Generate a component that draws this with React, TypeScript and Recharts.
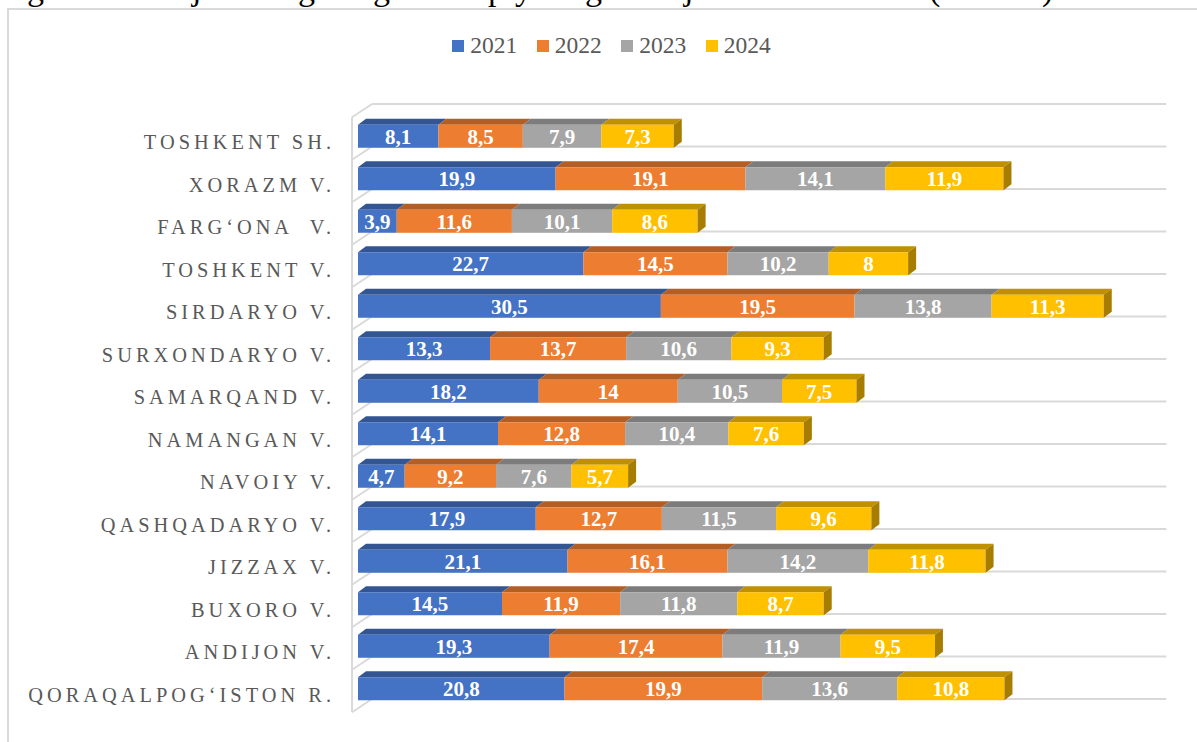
import { BarChart, Bar, XAxis, YAxis, CartesianGrid, Legend, LabelList } from "recharts";

const categories = [
  "TOSHKENT SH.",
  "XORAZM V.",
  "FARG‘ONA  V.",
  "TOSHKENT V.",
  "SIRDARYO V.",
  "SURXONDARYO V.",
  "SAMARQAND V.",
  "NAMANGAN V.",
  "NAVOIY V.",
  "QASHQADARYO V.",
  "JIZZAX V.",
  "BUXORO V.",
  "ANDIJON V.",
  "QORAQALPOG‘ISTON R.",
];
const v2021 = [8.1, 19.9, 3.9, 22.7, 30.5, 13.3, 18.2, 14.1, 4.7, 17.9, 21.1, 14.5, 19.3, 20.8];
const v2022 = [8.5, 19.1, 11.6, 14.5, 19.5, 13.7, 14, 12.8, 9.2, 12.7, 16.1, 11.9, 17.4, 19.9];
const v2023 = [7.9, 14.1, 10.1, 10.2, 13.8, 10.6, 10.5, 10.4, 7.6, 11.5, 14.2, 11.8, 11.9, 13.6];
const v2024 = [7.3, 11.9, 8.6, 8, 11.3, 9.3, 7.5, 7.6, 5.7, 9.6, 11.8, 8.7, 9.5, 10.8];
const seriesNames = ["2021", "2022", "2023", "2024"];

const data = categories.map((name, i) => ({
  name,
  "2021": v2021[i],
  "2022": v2022[i],
  "2023": v2023[i],
  "2024": v2024[i],
}));

const FRONT = ["#4472C4", "#ED7D31", "#A5A5A5", "#FFC000"];
const TOP = ["#335693", "#B25E25", "#7C7C7C", "#BF9000"];
const SIDE = "#A67D00";
const WALL = "#D9D9D9";
const SERIF = "'Liberation Serif', serif";

// bar depth
const DX = 8;
const DY = 6;

// tail ends of the cut off caption line above the chart
const captionGlyphs = ["g", "j", "g", "g", "p", "y", "g", "j", "(", ")"];
const captionX = [27, 192, 298, 373, 488, 515, 585, 684, 929, 1042];

const Bar3D = (props: any) => {
  const { x, y, width, height, colorIndex } = props;
  const last = colorIndex === 3;
  return (
    <g>
      <path
        d={`M${x},${y} L${x + DX},${y - DY} L${x + width + DX},${y - DY} L${x + width},${y} Z`}
        fill={TOP[colorIndex]}
      />
      <rect x={x} y={y} width={width} height={height} fill={FRONT[colorIndex]} />
      {last && (
        <path
          d={`M${x + width},${y} L${x + width + DX},${y - DY} L${x + width + DX},${y + height - DY} L${x + width},${y + height} Z`}
          fill={SIDE}
        />
      )}
    </g>
  );
};

// back wall line + the slanted bit on the side wall
const WallLine = (props: any) => {
  const { x1, x2, y1, index } = props;
  const step = 42.5;
  return (
    <g key={props.key} stroke={WALL} strokeWidth={2} fill="none">
      <line x1={x1 + 14} x2={x2 + 14} y1={y1 - 10.75} y2={y1 - 10.75} />
      <line x1={x1 - 6} x2={x1 + 14} y1={y1 + 2.5} y2={y1 - 10.75} />
      {index < categories.length && <line x1={x1 - 6} x2={x1 - 6} y1={y1 + 2.5} y2={y1 + 2.5 + step} />}
    </g>
  );
};

const CategoryTick = (props: any) => {
  const { x, y, payload } = props;
  return (
    <text
      x={x - 15}
      y={y + 13}
      textAnchor="end"
      fontFamily={SERIF}
      fontSize={20.4}
      letterSpacing={4}
      fill="#595959"
      style={{ whiteSpace: "pre" }}
    >
      {payload.value}
    </text>
  );
};

const LegendRow = () => (
  <div style={{ display: "flex", justifyContent: "center", paddingLeft: 26, fontFamily: SERIF, fontSize: 23.5, color: "#595959" }}>
    {seriesNames.map((s, i) => (
      <div key={s} style={{ display: "flex", alignItems: "center", marginRight: i < 3 ? 19.5 : 0 }}>
        <span style={{ width: 12, height: 12, background: FRONT[i], marginRight: 6 }} />
        <span>{s}</span>
      </div>
    ))}
  </div>
);

const formatValue = (v: any) => String(v).replace(".", ",");

export default function App() {
  return (
    <div style={{ position: "absolute", left: 0, top: 0, width: 1197, height: 742, background: "#fff", overflow: "hidden" }}>
      <svg width={1197} height={8} style={{ position: "absolute", left: 0, top: 0 }}>
        {captionGlyphs.map((g, i) => (
          <text key={i} x={captionX[i]} y={0} fontFamily={SERIF} fontSize={34} fill="#000">
            {g}
          </text>
        ))}
      </svg>
      <div
        style={{
          position: "absolute",
          left: 7,
          top: 8,
          width: 1190,
          height: 734,
          borderLeft: `2px solid ${WALL}`,
          borderTop: `2px solid ${WALL}`,
          boxSizing: "border-box",
        }}
      />
      <BarChart
        width={1197}
        height={742}
        data={data}
        layout="vertical"
        barSize={23}
        margin={{ top: 114.75, right: 44.6, bottom: 32.25, left: 8 }}
        style={{ position: "absolute", left: 0, top: 0 }}
      >
        <CartesianGrid
          vertical={false}
          horizontal={(p: any) => <WallLine {...p} />}
          horizontalCoordinatesGenerator={({ offset }: any) =>
            Array.from({ length: categories.length + 1 }, (_, i) => offset.top + (i * offset.height) / categories.length)
          }
        />
        <XAxis type="number" domain={[0, 80]} hide />
        <YAxis
          type="category"
          dataKey="name"
          width={350}
          axisLine={false}
          tickLine={false}
          interval={0}
          tick={<CategoryTick />}
        />
        <Legend verticalAlign="middle" content={<LegendRow />} wrapperStyle={{ top: 32, left: 0, width: 1197 }} />
        {seriesNames.map((s, i) => (
          <Bar
            key={s}
            dataKey={s}
            stackId="a"
            isAnimationActive={false}
            fill={FRONT[i]}
            shape={(p: any) => <Bar3D {...p} colorIndex={i} />}
          >
            <LabelList
              dataKey={s}
              position="center"
              formatter={formatValue}
              fill="#fff"
              fontFamily={SERIF}
              fontWeight="bold"
              fontSize={21}
            />
          </Bar>
        ))}
      </BarChart>
    </div>
  );
}
